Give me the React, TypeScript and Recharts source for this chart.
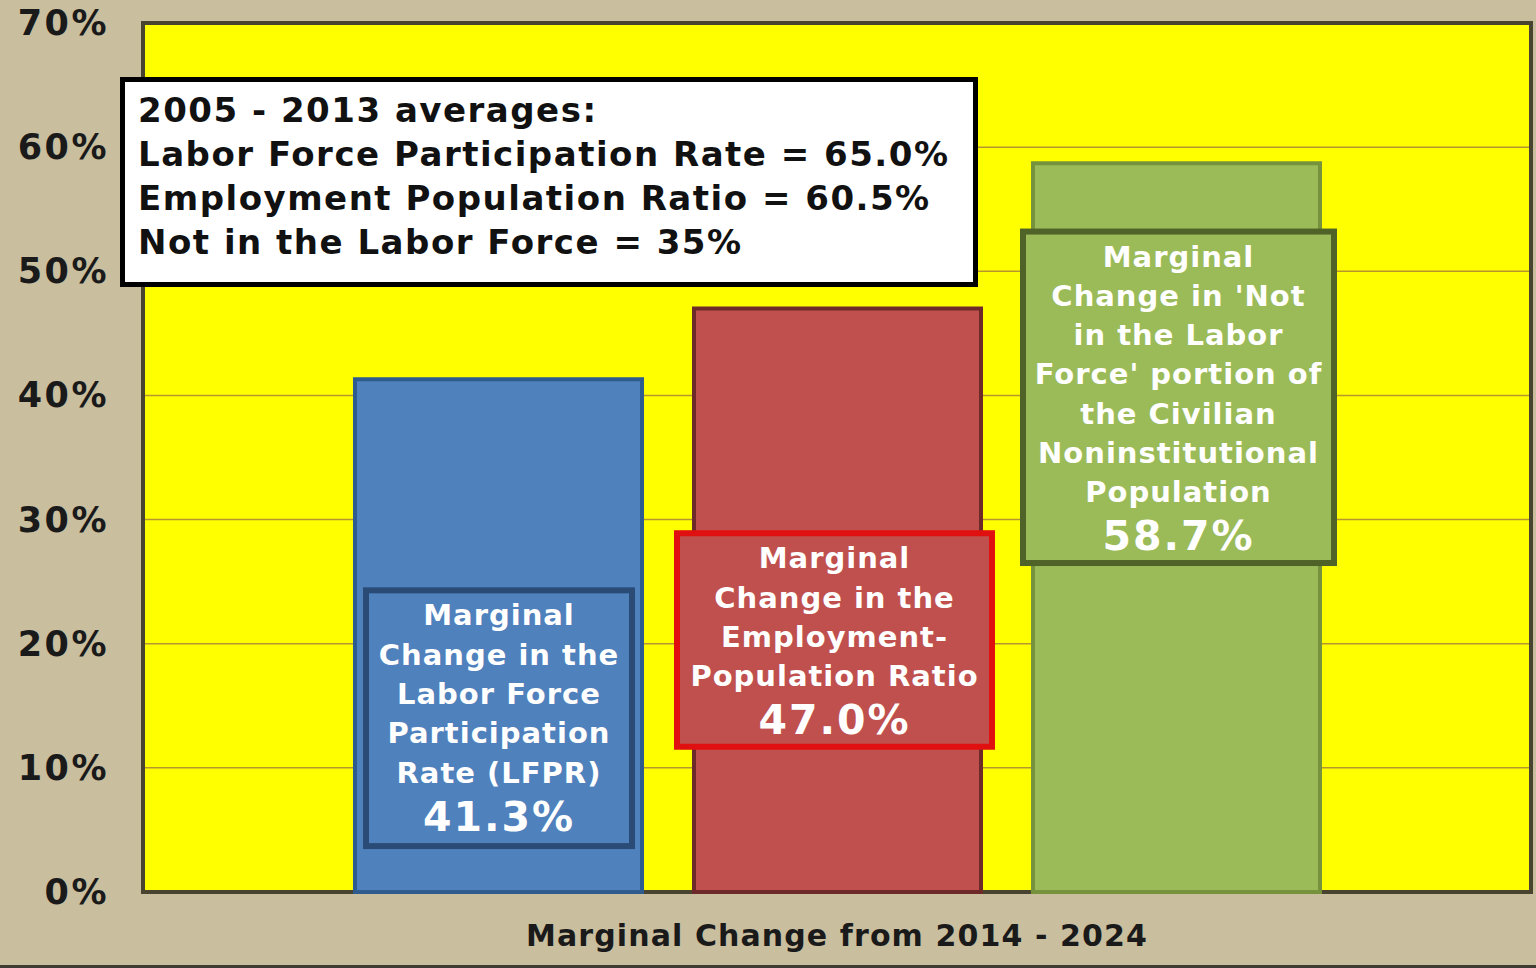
import { Bar, BarChart, CartesianGrid, LabelList, ReferenceArea, XAxis, YAxis } from 'recharts'

const FONT = '"DejaVu Sans", Verdana, sans-serif'

const categories = ['Marginal Change from 2014 - 2024']
const seriesKeys = ['lfpr', 'epop', 'nilf']
const seriesValues = [41.3, 47.0, 58.7]
const yTicks = [0, 10, 20, 30, 40, 50, 60, 70]

const boxLines = [
  ['Marginal', 'Change in the', 'Labor Force', 'Participation', 'Rate (LFPR)'],
  ['Marginal', 'Change in the', 'Employment-', 'Population Ratio'],
  ['Marginal', "Change in 'Not", 'in the Labor', "Force' portion of", 'the Civilian', 'Noninstitutional', 'Population'],
]

const averagesLines = [
  '2005 - 2013 averages:',
  'Labor Force Participation Rate = 65.0%',
  'Employment Population Ratio = 60.5%',
  'Not in the Labor Force = 35%',
]

// bar look + where the annotation box sits (top/bottom in axis units, side offsets in px)
const BAR_STYLES = [
  { fill: '#4f81bd', stroke: '#2f5c8f', boxStroke: '#2a4b76', top: 24.3, bottom: 3.7, dl: -11, dr: -10 },
  { fill: '#c0504d', stroke: '#6e2a28', boxStroke: '#e01010', top: 28.9, bottom: 11.7, dl: 17, dr: 11 },
  { fill: '#9bbb59', stroke: '#76923c', boxStroke: '#4f6228', top: 53.2, bottom: 26.5, dl: 10, dr: 14 },
]

const data = categories.map((name) => {
  const row: Record<string, string | number> = { name }
  seriesKeys.forEach((k, i) => (row[k] = seriesValues[i]))
  return row
})

function BoxLabel(props: any) {
  const { idx } = props
  const vb = props.viewBox ?? props
  const x = Number(props.x ?? vb.x)
  const y = Number(props.y ?? vb.y)
  const width = Number(props.width ?? vb.width)
  const height = Number(props.height ?? vb.height)
  const value = seriesValues[idx]
  const st = BAR_STYLES[idx]
  const perUnit = height / value
  const base = y + height
  const top = base - st.top * perUnit
  const bottom = base - st.bottom * perUnit
  const left = x - st.dl
  const right = x + width + st.dr
  const cx = (left + right) / 2
  const lines = boxLines[idx]
  return (
    <g>
      <rect x={left} y={top} width={right - left} height={bottom - top} fill={st.fill} stroke={st.boxStroke} strokeWidth={6} />
      {lines.map((t, i) => (
        <text key={i} x={cx} y={top + 35 + i * 39.3} textAnchor="middle" fill="#ffffff" fontFamily={FONT} fontWeight="bold" fontSize={29} letterSpacing={1}>
          {t}
        </text>
      ))}
      <text x={cx} y={top + 35 + (lines.length - 1) * 39.3 + 48} textAnchor="middle" fill="#ffffff" fontFamily={FONT} fontWeight="bold" fontSize={41} letterSpacing={2}>
        {`${value.toFixed(1)}%`}
      </text>
    </g>
  )
}

function YTick({ x, y, payload }: any) {
  return (
    <text x={x} y={y} dy={12} textAnchor="end" fill="#1a1a1a" fontFamily={FONT} fontWeight="bold" fontSize={35} letterSpacing={2.5}>
      {`${payload.value}%`}
    </text>
  )
}

function XTick({ x, y, payload }: any) {
  return (
    <text x={x} y={y} dy={46} textAnchor="middle" fill="#1a1a1a" fontFamily={FONT} fontWeight="bold" fontSize={30} letterSpacing={1.1}>
      {payload.value}
    </text>
  )
}

export default function App() {
  return (
    <div style={{ position: 'absolute', left: 0, top: 0, width: 1536, height: 968, background: '#c9be9e', boxSizing: 'border-box', borderBottom: '3px solid #3f3d33' }}>
      <BarChart width={1536} height={968} data={data} margin={{ top: 23, right: 5, bottom: 0, left: 0 }} barSize={287} barGap={52}>
        <CartesianGrid vertical={false} stroke="#b8962e" strokeWidth={1.5} fill="#ffff00" />
        <XAxis dataKey="name" tick={<XTick />} tickSize={0} tickMargin={8} axisLine={false} tickLine={false} height={76} />
        <YAxis domain={[0, 70]} ticks={yTicks} tick={<YTick />} tickSize={0} tickMargin={34} axisLine={false} tickLine={false} width={143} />
        <ReferenceArea y1={0} y2={70} fill="none" stroke="#48442f" strokeWidth={4} />
        {seriesKeys.map((k, i) => (
          <Bar key={k} dataKey={k} fill={BAR_STYLES[i].fill} stroke={BAR_STYLES[i].stroke} strokeWidth={4} isAnimationActive={false}>
            <LabelList dataKey={k} content={(p: any) => <BoxLabel {...p} idx={i} />} />
          </Bar>
        ))}
      </BarChart>
      <div
        style={{
          position: 'absolute',
          left: 120,
          top: 77,
          width: 858,
          height: 210,
          boxSizing: 'border-box',
          border: '5px solid #000',
          background: '#fff',
          padding: '6px 0 0 13px',
          fontFamily: FONT,
          fontWeight: 'bold',
          fontSize: 34,
          letterSpacing: 1.5,
          lineHeight: '44px',
          color: '#111',
          whiteSpace: 'nowrap',
        }}
      >
        {averagesLines.map((t) => (
          <div key={t}>{t}</div>
        ))}
      </div>
    </div>
  )
}
